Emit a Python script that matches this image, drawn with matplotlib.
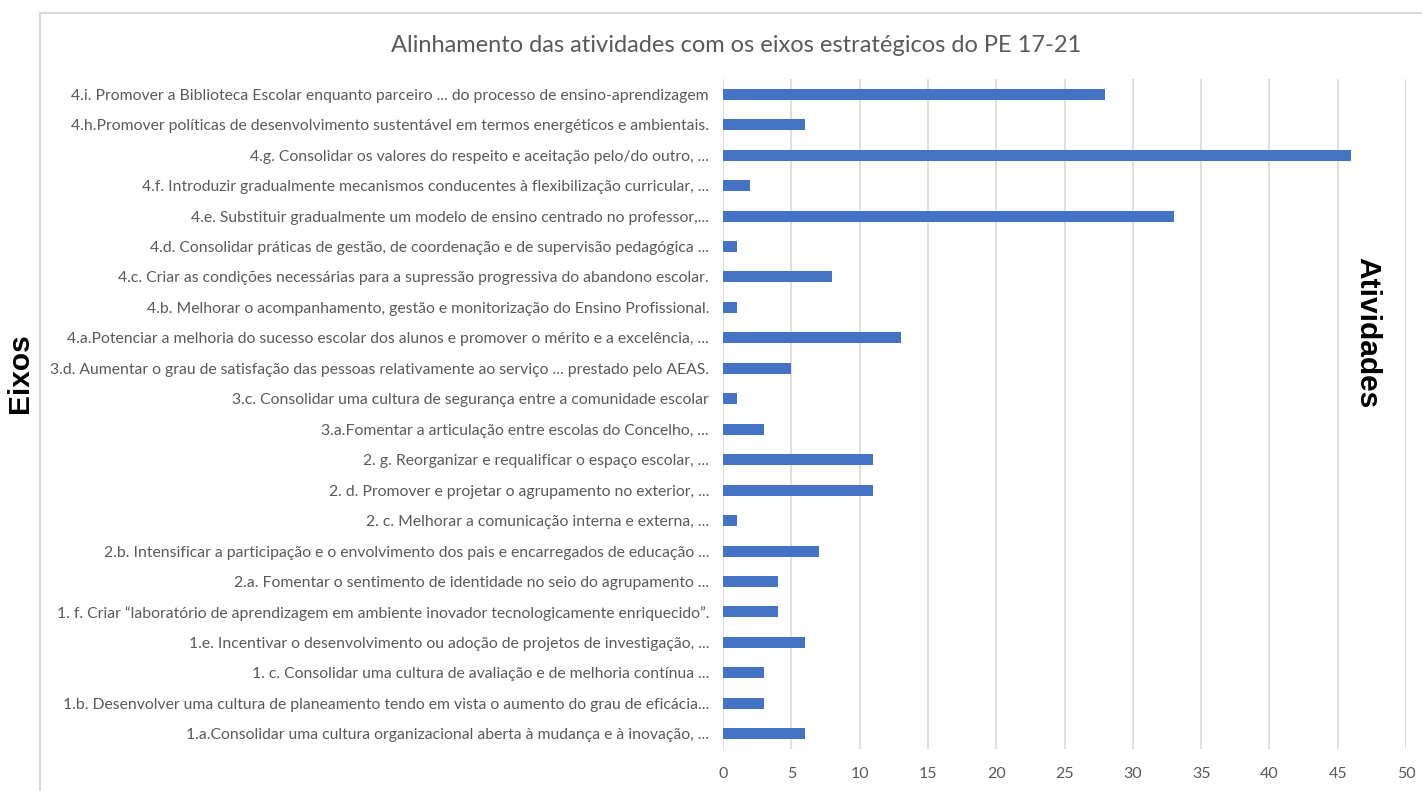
import matplotlib
matplotlib.use("Agg")
import matplotlib.pyplot as plt
from matplotlib.lines import Line2D

categories = [
    "4.i. Promover a Biblioteca Escolar enquanto parceiro ... do processo de ensino-aprendizagem",
    "4.h.Promover políticas de desenvolvimento sustentável em termos energéticos e ambientais.",
    "4.g. Consolidar os valores do respeito e aceitação pelo/do outro, ...",
    "4.f. Introduzir gradualmente mecanismos conducentes à flexibilização curricular, ...",
    "4.e. Substituir gradualmente um modelo de ensino centrado no professor,...",
    "4.d. Consolidar práticas de gestão, de coordenação e de supervisão pedagógica ...",
    "4.c. Criar as condições necessárias para a supressão progressiva do abandono escolar.",
    "4.b. Melhorar o acompanhamento, gestão e monitorização do Ensino Profissional.",
    "4.a.Potenciar a melhoria do sucesso escolar dos alunos e promover o mérito e a excelência, ...",
    "3.d. Aumentar o grau de satisfação das pessoas relativamente ao serviço ... prestado pelo AEAS.",
    "3.c. Consolidar uma cultura de segurança entre a comunidade escolar",
    "3.a.Fomentar a articulação entre escolas do Concelho, ...",
    "2. g. Reorganizar e requalificar o espaço escolar, ...",
    "2. d. Promover e projetar o agrupamento no exterior, ...",
    "2. c. Melhorar a comunicação interna e externa, ...",
    "2.b. Intensificar a participação e o envolvimento dos pais e encarregados de educação ...",
    "2.a. Fomentar o sentimento de identidade no seio do agrupamento ...",
    "1. f. Criar \u201claboratório de aprendizagem em ambiente inovador tecnologicamente enriquecido\u201d.",
    "1.e. Incentivar o desenvolvimento ou adoção de projetos de investigação, ...",
    "1. c. Consolidar uma cultura de avaliação e de melhoria contínua ...",
    "1.b. Desenvolver uma cultura de planeamento tendo em vista o aumento do grau de eficácia...",
    "1.a.Consolidar uma cultura organizacional aberta à mudança e à inovação, ...",
]
values = [28, 6, 46, 2, 33, 1, 8, 1, 13, 5, 1, 3, 11, 11, 1, 7, 4, 4, 6, 3, 3, 6]
xticks = [0, 5, 10, 15, 20, 25, 30, 35, 40, 45, 50]

title = "Alinhamento das atividades com os eixos estratégicos do PE 17-21"
grey = "#595959"
bar_color = "#4472C4"
grid_color = "#d9d9d9"
font = "Lato"

fig = plt.figure(figsize=(14.22, 7.91), dpi=100)
W, H = 1422, 791
ax = fig.add_axes([723 / W, 1 - 749 / H, (1406 - 723) / W, (749 - 79) / H])

pos = list(range(len(categories)))
ax.barh(pos, values, height=0.36, color=bar_color, zorder=3)
ax.set_ylim(len(categories) - 0.5, -0.5)
ax.set_xlim(0, 50)
ax.set_xticks(xticks)
ax.set_xticklabels([str(t) for t in xticks], fontsize=11.5, color=grey, family=font)
ax.set_yticks(pos)
ax.set_yticklabels(categories, fontsize=11.35, color=grey, family=font)
ax.tick_params(axis="y", length=0, pad=10)
ax.tick_params(axis="x", length=0, pad=13)
ax.grid(axis="x", color=grid_color, linewidth=1.2, zorder=0)
for s in ax.spines.values():
    s.set_visible(False)

fig.text(736 / W, 1 - 45 / H, title, ha="center", va="center", fontsize=17,
         color=grey, family=font)
fig.text(20 / W, 1 - 373 / H, "Eixos", rotation=90, ha="center", va="center",
         fontsize=21.5, fontweight="bold", color="black", family="Liberation Sans")
fig.text(1367 / W, 1 - 333 / H, "Atividades", rotation=-90, ha="center", va="center",
         fontsize=21.5, fontweight="bold", color="black", family="Liberation Sans")

# chart area frame
fig.add_artist(Line2D([40 / W, 40 / W], [0, 1 - 13 / H], transform=fig.transFigure,
                      color=grid_color, linewidth=1.5))
fig.add_artist(Line2D([40 / W, 1], [1 - 13 / H, 1 - 13 / H], transform=fig.transFigure,
                      color=grid_color, linewidth=1.5))

fig.savefig("out.png", dpi=100, facecolor="white")
